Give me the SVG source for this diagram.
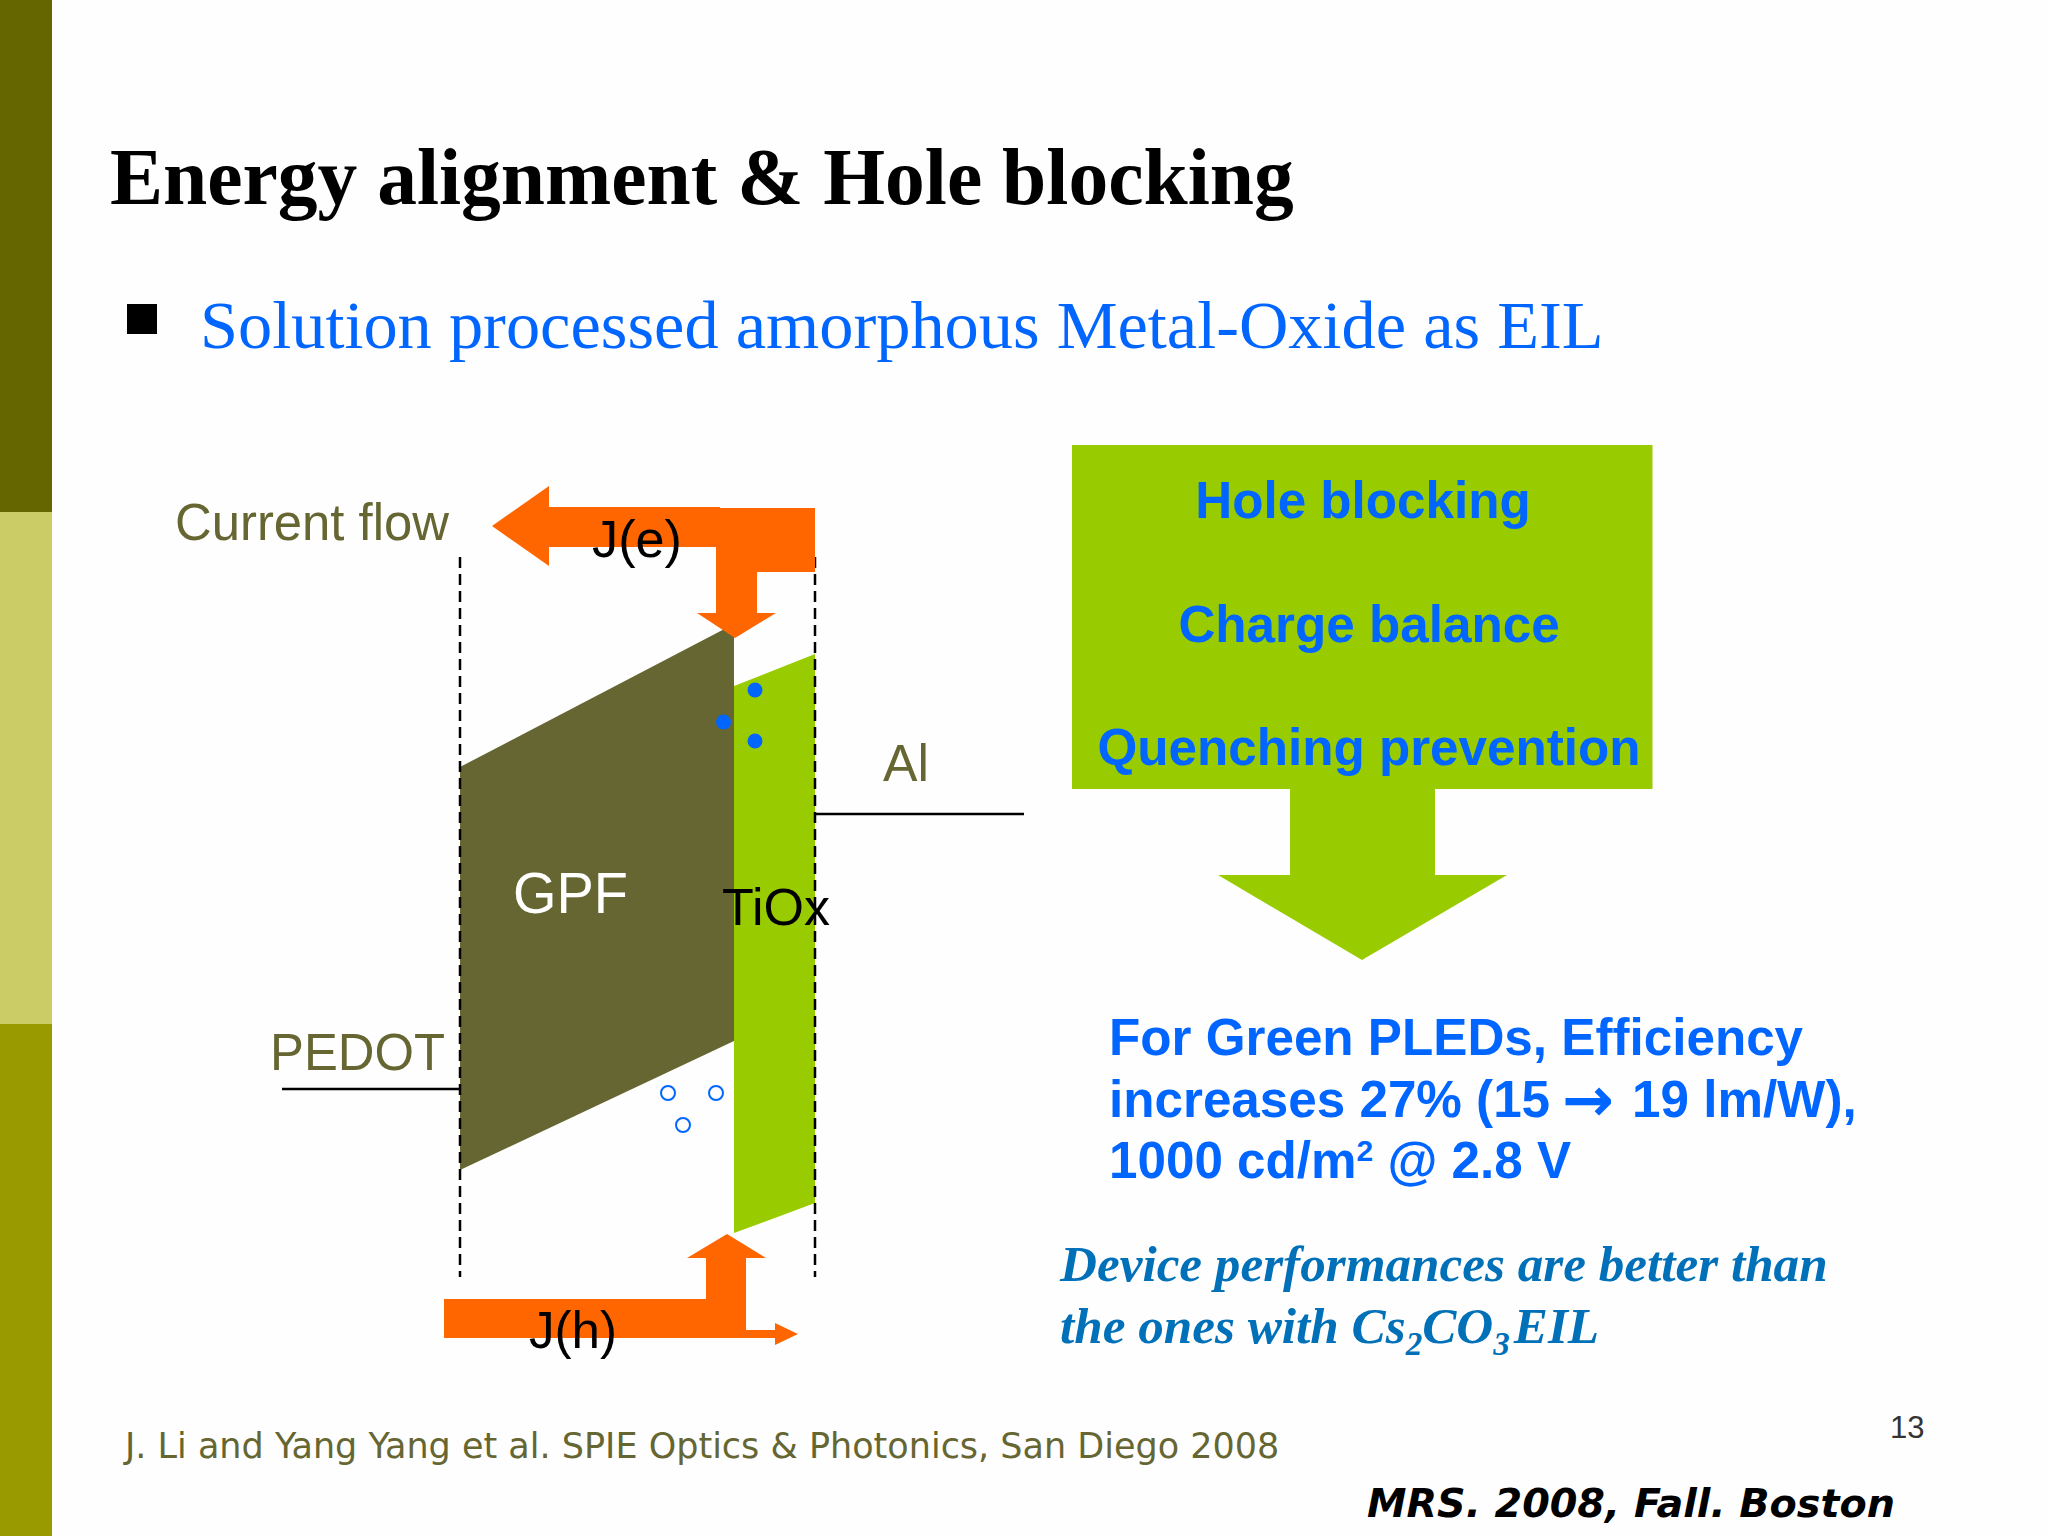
<svg xmlns="http://www.w3.org/2000/svg" width="2048" height="1536" viewBox="0 0 2048 1536">
<style>
.sans{font-family:"Liberation Sans",Arial,sans-serif}
.serif{font-family:"Liberation Serif","Times New Roman",serif}
.dv{font-family:"DejaVu Sans",Verdana,sans-serif}
.olive{fill:#666633}
.blue{fill:#0066ff}
.lbl{font-size:52px}
.bb{font-size:51.2px;font-weight:bold;fill:#0066ff}
.dev{font-size:51.2px;font-weight:bold;font-style:italic;fill:#0070b8}
.orange{fill:#ff6600}
.dash{stroke:#000;stroke-width:2.5;stroke-dasharray:11 6;fill:none}
.line{stroke:#000;stroke-width:2.5;fill:none}
.hole{fill:none;stroke:#0066ff;stroke-width:2}
</style>
<rect width="2048" height="1536" fill="#fefefe"/>
<g id="sidebar">
<rect x="0" y="0" width="52" height="512" fill="#666600"/>
<rect x="0" y="512" width="52" height="512" fill="#cccc66"/>
<rect x="0" y="1024" width="52" height="512" fill="#999900"/>
</g>
<g id="title"><text class="serif" x="110" y="204" font-size="79.5" font-weight="bold" fill="#000">Energy alignment &amp; Hole blocking</text></g>
<g id="subtitle">
<rect x="127" y="304" width="30" height="30" fill="#000"/>
<text class="serif blue" x="200" y="348" font-size="68.4">Solution processed amorphous Metal-Oxide as EIL</text>
</g>
<g id="gpf"><polygon points="460,767 734,624 734,1041 460,1170" fill="#666633"/><text class="sans" x="513" y="913" font-size="57" textLength="115" lengthAdjust="spacingAndGlyphs" fill="#fff">GPF</text></g>
<g id="tiox"><polygon points="734,686 815,654 815,1203 734,1233" fill="#99cc00"/><text class="sans lbl" x="722" y="925" textLength="108" lengthAdjust="spacingAndGlyphs" fill="#000">TiOx</text></g>
<g id="connectors">
<line class="dash" x1="460" y1="557" x2="460" y2="1277"/>
<line class="dash" x1="815" y1="557" x2="815" y2="1277"/>
<line class="line" x1="282" y1="1089" x2="460" y2="1089"/>
<line class="line" x1="815" y1="814" x2="1024" y2="814"/>
<polygon class="orange" points="492,526 549,486 549,507 720,507 720,508 815,508 815,572 757,572 757,613 776,613 735,638 697,613 716,613 716,547 549,547 549,566"/>
<polygon class="orange" points="444,1299 706,1299 706,1258 687,1258 727,1234 766,1258 746,1258 746,1330 775,1330 775,1323 798,1334 775,1345 775,1338 444,1338"/>
</g>
<g id="carriers">
<ellipse class="blue" cx="755" cy="690" rx="7.5" ry="7.5"/>
<ellipse class="blue" cx="723.5" cy="722" rx="7.5" ry="7.5"/>
<ellipse class="blue" cx="755" cy="741" rx="7.5" ry="7.5"/>
<circle class="hole" cx="668" cy="1093" r="7"/>
<circle class="hole" cx="716" cy="1093" r="7"/>
<circle class="hole" cx="683" cy="1125" r="7"/>
</g>
<g id="labels">
<text class="sans lbl olive" x="175" y="540" textLength="274" lengthAdjust="spacingAndGlyphs">Current flow</text>
<text class="sans lbl" x="592" y="557" textLength="90" lengthAdjust="spacingAndGlyphs" fill="#000">J(e)</text>
<text class="sans lbl olive" x="883" y="781" textLength="46" lengthAdjust="spacingAndGlyphs">Al</text>
<text class="sans lbl olive" x="270" y="1070" textLength="175" lengthAdjust="spacingAndGlyphs">PEDOT</text>
<text class="sans lbl" x="529" y="1348" textLength="88" lengthAdjust="spacingAndGlyphs" fill="#000">J(h)</text>
</g>
<g id="callout">
<polygon points="1072,445 1652.5,445 1652.5,789 1435,789 1435,875 1507,875 1362,960 1218,875 1290,875 1290,789 1072,789" fill="#99cc00"/>
<text class="sans bb" x="1363" y="518" text-anchor="middle">Hole blocking</text>
<text class="sans bb" x="1369" y="642" text-anchor="middle">Charge balance</text>
<text class="sans bb" x="1369" y="765" text-anchor="middle">Quenching prevention</text>
</g>
<g id="result">
<text class="sans bb" x="1109" y="1055">For Green PLEDs, Efficiency</text>
<text class="sans bb" x="1109" y="1117">increases 27% (15<tspan x="1562" dy="4" style="font-family:'DejaVu Sans',sans-serif;font-size:62px">→</tspan><tspan x="1632" dy="-4">19 lm/W),</tspan></text>
<text class="sans bb" x="1109" y="1178">1000 cd/m<tspan dy="-17" font-size="30">2</tspan><tspan dy="17"> @ 2.8 V</tspan></text>
</g>
<g id="comparison">
<text class="serif dev" x="1060" y="1281">Device performances are better than</text>
<text class="serif dev" x="1060" y="1343">the ones with Cs<tspan dy="12" font-size="33">2</tspan><tspan dy="-12">CO</tspan><tspan dy="12" font-size="33">3</tspan><tspan dy="-12" dx="4">EIL</tspan></text>
</g>
<g id="footer">
<text class="dv olive" x="125" y="1458" font-size="35">J. Li and Yang Yang et al. SPIE Optics &amp; Photonics, San Diego 2008</text>
<text class="sans" x="1890" y="1438" font-size="31" fill="#333">13</text>
<text class="dv" x="1367" y="1517" font-size="39.7" font-weight="bold" font-style="italic" fill="#000">MRS. 2008, Fall. Boston</text>
</g>
</svg>
